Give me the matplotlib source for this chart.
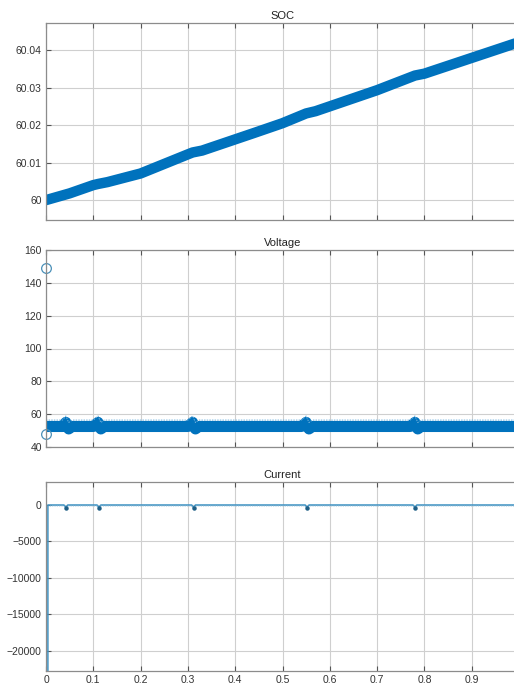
import matplotlib
matplotlib.use("Agg")
import matplotlib.pyplot as plt

plt.rcParams['font.family'] = ['Liberation Sans', 'DejaVu Sans']

# --- data -------------------------------------------------------------
t_soc = [0.0, 0.05, 0.10, 0.11, 0.13, 0.20, 0.30, 0.31, 0.33, 0.44, 0.50,
         0.55, 0.57, 0.70, 0.78, 0.80, 0.90, 1.00]
soc = [60.0, 60.0018, 60.0040, 60.0043, 60.0048, 60.0071, 60.0122, 60.0127,
       60.0132, 60.0179, 60.0205, 60.0231, 60.0237, 60.0293, 60.0332,
       60.0337, 60.0379, 60.0421]

t_volt = [0.0, 0.035, 0.042, 0.048, 0.055, 0.100, 0.110, 0.116, 0.123,
          0.300, 0.310, 0.316, 0.323, 0.540, 0.550, 0.556, 0.563,
          0.770, 0.780, 0.786, 0.793, 1.00]
volt = [52.5, 52.5, 55.0, 51.0, 52.5, 52.5, 55.0, 51.0, 52.5,
        52.5, 55.0, 51.0, 52.5, 52.5, 55.0, 51.0, 52.5,
        52.5, 55.0, 51.0, 52.5, 52.5]
t_volt_init = [0.0, 0.0]
volt_init = [149.0, 48.0]

t_curr = [0.004, 0.004, 0.008, 0.038, 0.042, 0.046, 0.108, 0.112, 0.116,
          0.308, 0.312, 0.316, 0.548, 0.552, 0.556, 0.776, 0.780, 0.784, 1.00]
curr = [-22700, 0, 0, 0, -350, 0, 0, -350, 0,
        0, -350, 0, 0, -350, 0, 0, -350, 0, 0]
t_dips = [0.042, 0.112, 0.312, 0.552, 0.780]
curr_dips = [-350, -350, -350, -350, -350]

xticks = [0, 0.1, 0.2, 0.3, 0.4, 0.5, 0.6, 0.7, 0.8, 0.9]
xtick_labels = ['0', '0.1', '0.2', '0.3', '0.4', '0.5', '0.6', '0.7', '0.8', '0.9']
soc_ticks = [60.0, 60.01, 60.02, 60.03, 60.04]
soc_tick_labels = ['60', '60.01', '60.02', '60.03', '60.04']
volt_ticks = [40, 60, 80, 100, 120, 140, 160]
curr_ticks = [0, -5000, -10000, -15000, -20000]

BLUE = '#0072BD'
LIGHT = '#3f93c4'
W, H = 514, 689

fig = plt.figure(figsize=(W / 100, H / 100), dpi=100)


def make_axes(top, bottom):
    left, right = 46, 519
    return fig.add_axes([left / W, 1 - bottom / H, (right - left) / W, (bottom - top) / H])


def style(ax, title, show_x):
    ax.set_xlim(0, 1)
    ax.set_xticks(xticks)
    if show_x:
        ax.set_xticklabels(xtick_labels)
    else:
        ax.set_xticklabels([])
    ax.grid(True, color='#cfcfcf', linewidth=0.8)
    ax.set_axisbelow(True)
    for s in ax.spines.values():
        s.set_color('#8c8c8c')
        s.set_linewidth(0.9)
    ax.tick_params(direction='in', length=3.5, color='#555555',
                   labelsize=7.5, labelcolor='#333333', pad=3,
                   top=True, right=True)
    ax.set_title(title, fontsize=8, color='#222222', pad=3)


# SOC
ax1 = make_axes(23, 220)
ax1.plot(t_soc, soc, color=BLUE, linewidth=7.5, solid_capstyle='round',
         solid_joinstyle='round')
ax1.set_ylim(59.9947, 60.0472)
ax1.set_yticks(soc_ticks)
ax1.set_yticklabels(soc_tick_labels)
style(ax1, 'SOC', False)

# Voltage
ax2 = make_axes(250, 447)
ax2.plot(t_volt, volt, color=BLUE, linewidth=8, solid_capstyle='round',
         solid_joinstyle='round')
ax2.plot(t_volt, [v + 3.9 for v in volt], color='#6fb0dc', linewidth=0.7,
         linestyle=(0, (1.5, 1.2)))
ax2.plot(t_volt_init, volt_init, linestyle='none', marker='o', markersize=7,
         markerfacecolor='none', markeredgecolor='#4a90b8', markeredgewidth=0.9,
         clip_on=False)
ax2.set_ylim(40, 160)
ax2.set_yticks(volt_ticks)
style(ax2, 'Voltage', False)

# Current
ax3 = make_axes(482, 671)
ax3.plot(t_curr, curr, color=LIGHT, linewidth=1.1)
ax3.plot(t_curr[2:], [c - 120 for c in curr[2:]], color='#7ab6da', linewidth=0.7,
         linestyle=(0, (1.2, 1.2)))
ax3.plot(t_dips, curr_dips, linestyle='none', marker='o', markersize=2.2,
         color='#1f5f86')
ax3.set_ylim(-22740, 3150)
ax3.set_yticks(curr_ticks)
style(ax3, 'Current', True)

fig.savefig('out.png', dpi=100)
